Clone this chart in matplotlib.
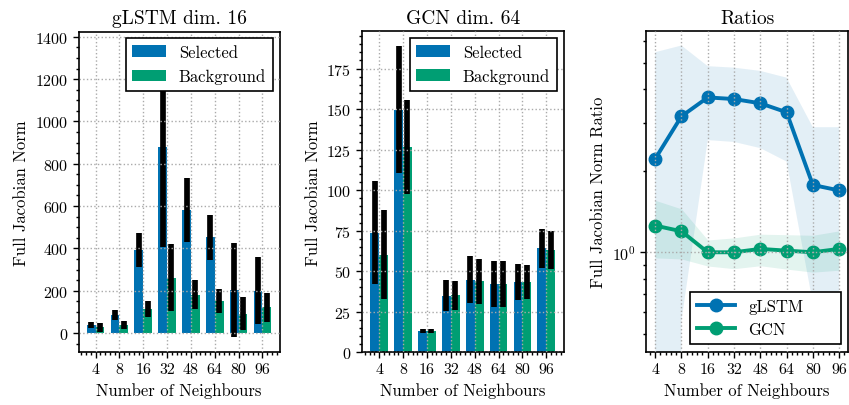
import numpy as np
import matplotlib
matplotlib.use("Agg")
import matplotlib.pyplot as plt

plt.rcParams['font.family'] = 'serif'
plt.rcParams['font.serif'] = ['cmr10', 'DejaVu Serif']
plt.rcParams['mathtext.fontset'] = 'cm'
plt.rcParams['axes.formatter.use_mathtext'] = True
plt.rcParams['axes.unicode_minus'] = False

# ---------------- data ----------------
neighbours = ['4', '8', '16', '32', '48', '64', '80', '96']

# gLSTM dim. 16 (Full Jacobian Norm)
glstm_sel_mean = [38, 85, 392, 880, 582, 452, 202, 200]
glstm_sel_std = [16, 23, 80, 475, 151, 107, 223, 158]
glstm_bg_mean = [27, 38, 113, 261, 182, 153, 92, 122]
glstm_bg_std = [20, 20, 38, 159, 70, 56, 77, 69]

# GCN dim. 64 (Full Jacobian Norm)
gcn_sel_mean = [73.7, 149.6, 13.0, 35.0, 44.8, 42.0, 43.2, 64.2]
gcn_sel_std = [31.8, 39.2, 1.2, 9.3, 14.3, 14.3, 11.1, 12.1]
gcn_bg_mean = [60.3, 126.6, 13.0, 35.2, 43.9, 42.1, 43.3, 63.3]
gcn_bg_std = [27.3, 28.9, 1.2, 8.8, 13.8, 14.2, 10.3, 11.8]

# Ratios
ratio_glstm_mean = [2.21, 3.17, 3.72, 3.67, 3.54, 3.28, 1.77, 1.69]
ratio_glstm_std = [3.25, 2.61, 1.13, 1.12, 1.12, 1.12, 1.12, 1.20]
ratio_gcn_mean = [1.254, 1.195, 1.0, 1.0, 1.029, 1.014, 1.0, 1.029]
ratio_gcn_std = [0.30, 0.25, 0.11, 0.13, 0.137, 0.147, 0.155, 0.17]

BLUE = '#0072B2'
GREEN = '#009E73'

TFS = 11.5   # tick labels
LFS = 12     # axis labels / legend
TITLE = 14
W, H = 849, 406
fig = plt.figure(figsize=(W / 100, H / 100), dpi=100)

def px_axes(x0, x1, y0, y1):
    return fig.add_axes([x0 / W, 1 - y1 / H, (x1 - x0) / W, (y1 - y0) / H])

ax1 = px_axes(78.5, 279.5, 32.5, 353.3)
ax2 = px_axes(362.0, 563.5, 32.3, 353.3)
ax3 = px_axes(646.0, 848.3, 32.3, 353.3)

def style(ax):
    ax.minorticks_on()
    ax.tick_params(which='both', direction='out', top=False, right=False,
                   labelsize=TFS, width=1.0)
    ax.tick_params(which='major', length=4)
    ax.tick_params(which='minor', length=2.2)
    for s in ax.spines.values():
        s.set_linewidth(1.2)
    ax.grid(True, which='major', linestyle=':', color='#aaaaaa', linewidth=1.0)
    ax.set_axisbelow(False)
    ax.set_xlabel('Number of Neighbours', fontsize=LFS)

x = np.arange(len(neighbours))
bw = 0.37
ekw = dict(elinewidth=4.1, ecolor='black', capsize=0)

def bars(ax, sm, ss, bm, bs, title, ylim, xlim):
    ax.bar(x - bw / 2, sm, bw, yerr=ss, color=BLUE, label='Selected', error_kw=ekw)
    ax.bar(x + bw / 2, bm, bw, yerr=bs, color=GREEN, label='Background', error_kw=ekw)
    ax.set_xticks(x)
    ax.set_xticklabels(neighbours)
    ax.set_xlim(*xlim)
    ax.set_ylim(*ylim)
    ax.set_title(title, fontsize=TITLE)
    ax.set_ylabel('Full Jacobian Norm', fontsize=LFS)
    style(ax)
    leg = ax.legend(loc='upper right', fontsize=LFS, fancybox=False, framealpha=1,
                    edgecolor='black', borderaxespad=0.4)
    leg.get_frame().set_linewidth(1.2)

bars(ax1, glstm_sel_mean, glstm_sel_std, glstm_bg_mean, glstm_bg_std,
     'gLSTM dim. 16', (-91, 1425), (-0.72, 7.72))
bars(ax2, gcn_sel_mean, gcn_sel_std, gcn_bg_mean, gcn_bg_std,
     'GCN dim. 64', (0, 198), (-0.72, 7.72))

# Ratios
ax3.set_yscale('log')
gm = np.array(ratio_glstm_mean); gs = np.array(ratio_glstm_std)
cm_ = np.array(ratio_gcn_mean); cs = np.array(ratio_gcn_std)
ax3.fill_between(x, gm - gs, gm + gs, color=BLUE, alpha=0.11, linewidth=0)
ax3.fill_between(x, cm_ - cs, cm_ + cs, color=GREEN, alpha=0.11, linewidth=0)
ax3.plot(x, gm, '-o', color=BLUE, lw=2.8, markersize=9, label='gLSTM')
ax3.plot(x, cm_, '-o', color=GREEN, lw=2.8, markersize=9, label='GCN')
ax3.set_xticks(x)
ax3.set_xticklabels(neighbours)
ax3.set_xlim(-0.35, 7.35)
ax3.set_ylim(0.428, 6.52)
ax3.set_title('Ratios', fontsize=TITLE)
ax3.set_ylabel('Full Jacobian Norm Ratio', fontsize=LFS)
style(ax3)
ax3.xaxis.set_minor_locator(matplotlib.ticker.AutoMinorLocator())
leg = ax3.legend(loc='lower left', bbox_to_anchor=(0.2175, 0.026, 0.745, 0.156),
                 mode='expand', borderaxespad=0, fontsize=LFS, fancybox=False,
                 framealpha=1, edgecolor='black', handlelength=2.3)
leg.get_frame().set_linewidth(1.2)

fig.savefig('out.png', dpi=100)
